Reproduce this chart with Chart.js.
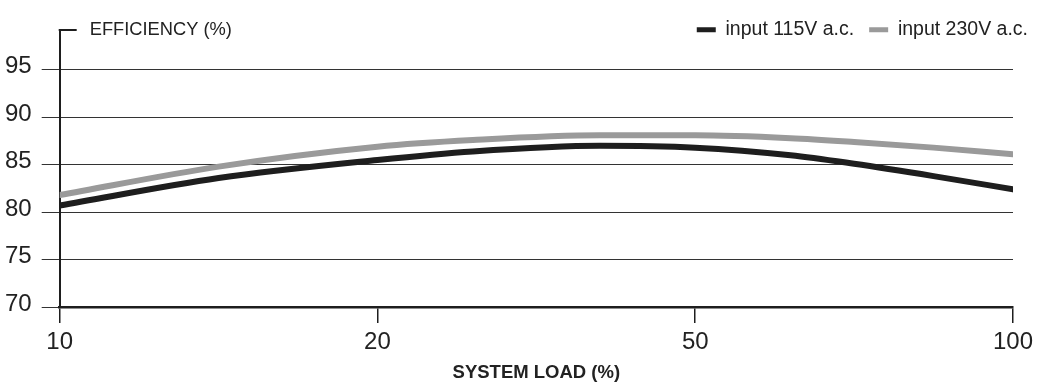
<!DOCTYPE html>
<html>
<head>
<meta charset="utf-8">
<script src="https://cdn.jsdelivr.net/npm/chart.js@4.4.1/dist/chart.umd.min.js"></script>
<style>
  html, body { margin: 0; padding: 0; background: #fff; }
  #wrap { width: 1043px; height: 384px; }
</style>
</head>
<body>
<div id="wrap"><canvas id="effChart" width="1043" height="384"></canvas></div>
<script>
// x axis: the four load steps are drawn equally spaced, so points use index positions
var loadLabels = ['10', '20', '50', '100'];
var loadPos = [0, 0.5, 1, 1.3, 1.7, 2, 2.3, 2.5, 2.75, 3];
var eff115 = [80.7, 83.6, 85.5, 86.4, 87.0, 86.8, 86.0, 85.1, 83.8, 82.4];
var eff230 = [81.8, 84.8, 86.9, 87.6, 88.1, 88.1, 87.8, 87.4, 86.8, 86.1];
var yTicks = [70, 75, 80, 85, 90, 95];

var dark = '#1e1e1e', grey = '#9a9a9a';
var fontName = "'Liberation Sans', Arial, sans-serif";

function toPoints(vals) {
    var pts = [];
    for (let i = 0; i < vals.length; i++) {
        pts.push({ x: loadPos[i], y: vals[i] });
    }
    return pts;
}

// legend only reserves a thin strip in the layout, let it draw its full row
var legendRoom = {
    id: 'legendRoom',
    afterLayout: function(chart) {
        if (chart.legend) {
            chart.legend.bottom = chart.legend.top + 40;
            chart.legend.height = 40;
        }
    }
};

// y axis title and the little cap at the top of the axis
var topDecor = {
    id: 'topDecor',
    afterDraw: function(chart) {
        var ctx = chart.ctx, area = chart.chartArea;
        ctx.save();
        ctx.strokeStyle = dark;
        ctx.lineWidth = 2;
        ctx.beginPath();
        ctx.moveTo(area.left - 1, area.top);
        ctx.lineTo(area.left + 17, area.top);
        ctx.stroke();
        ctx.fillStyle = '#222';
        ctx.font = '18.3px ' + fontName;
        ctx.textBaseline = 'middle';
        ctx.fillText('EFFICIENCY (%)', area.left + 30, area.top);
        ctx.restore();
    }
};

var ctx = document.getElementById('effChart');
var effChart = new Chart(ctx, {
    type: 'line',
    data: {
        datasets: [{
            label: 'input 115V a.c.',
            data: toPoints(eff115),
            borderColor: dark,
            backgroundColor: dark,
            borderWidth: 6,
            borderCapStyle: 'round',
            pointRadius: 0,
            cubicInterpolationMode: 'monotone'
        }, {
            label: 'input 230V a.c.',
            data: toPoints(eff230),
            borderColor: grey,
            backgroundColor: grey,
            borderWidth: 6,
            borderCapStyle: 'round',
            pointRadius: 0,
            cubicInterpolationMode: 'monotone'
        }]
    },
    options: {
        responsive: false,
        animation: false,
        layout: { padding: { left: -5, right: 0, top: 5, bottom: 0 } },
        plugins: {
            tooltip: { enabled: false },
            legend: {
                position: 'top',
                align: 'end',
                maxHeight: 25,
                labels: {
                    color: '#222',
                    font: { family: fontName, size: 19.5 },
                    boxWidth: 19,
                    boxHeight: 5,
                    padding: 15,
                    generateLabels: function(chart) {
                        var items = Chart.defaults.plugins.legend.labels.generateLabels(chart);
                        items.forEach(function(it) { it.lineWidth = 0; });
                        return items;
                    }
                }
            }
        },
        scales: {
            x: {
                type: 'linear',
                min: 0,
                max: 3,
                afterBuildTicks: function(scale) {
                    scale.ticks = loadLabels.map(function(l, i) { return { value: i }; });
                },
                afterFit: function(scale) {
                    scale.paddingRight = 30;
                },
                ticks: {
                    color: '#222',
                    padding: 5,
                    font: { family: fontName, size: 24 },
                    callback: function(v) { return loadLabels[v]; }
                },
                grid: {
                    drawOnChartArea: false,
                    drawTicks: true,
                    tickLength: 16,
                    color: dark,
                    lineWidth: 1.5
                },
                border: { display: true, color: dark, width: 2.5 },
                title: {
                    display: true,
                    text: 'SYSTEM LOAD (%)',
                    color: '#222',
                    font: { family: fontName, size: 18.5, weight: 'bold' },
                    padding: { top: 0, bottom: 0 }
                }
            },
            y: {
                min: 70,
                max: 99.2,
                afterBuildTicks: function(scale) {
                    scale.ticks = yTicks.map(function(v) { return { value: v }; });
                },
                ticks: {
                    color: '#222',
                    padding: 10,
                    labelOffset: -3,
                    font: { family: fontName, size: 24 }
                },
                grid: {
                    color: '#333',
                    lineWidth: 1,
                    tickLength: 18,
                    drawTicks: true
                },
                border: { display: true, color: dark, width: 2 }
            }
        }
    },
    plugins: [legendRoom, topDecor]
});
</script>
</body>
</html>
